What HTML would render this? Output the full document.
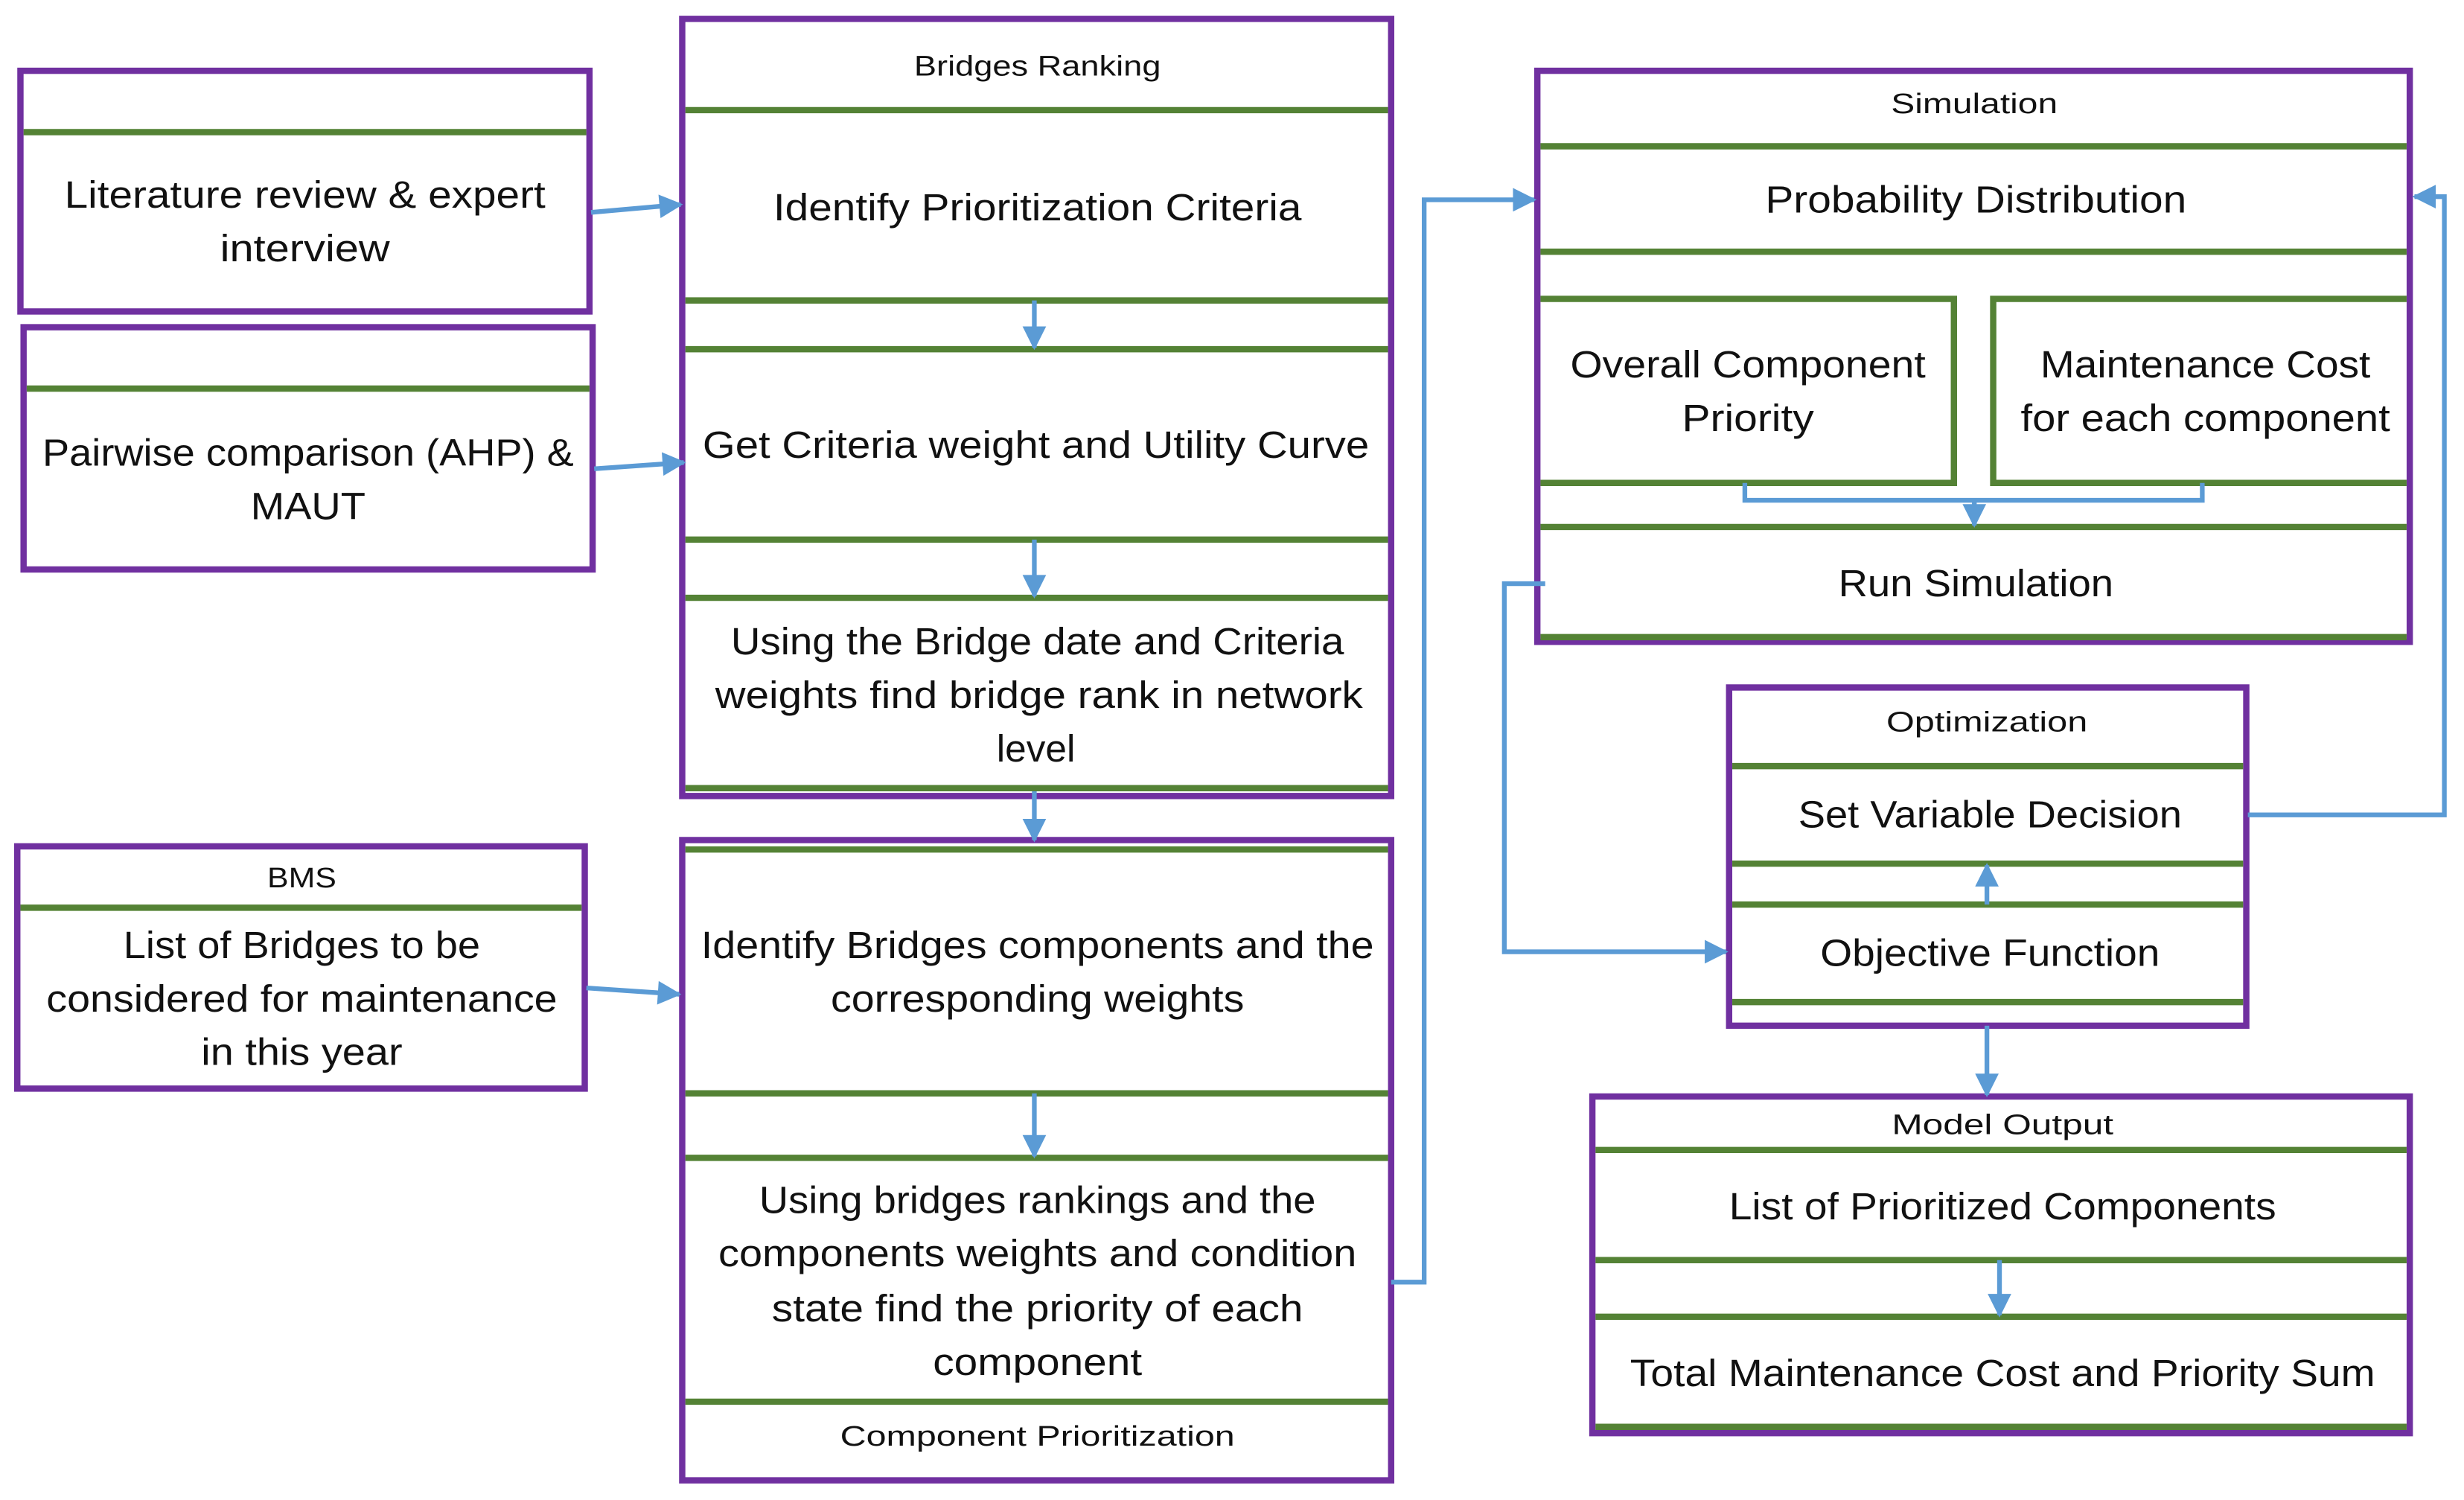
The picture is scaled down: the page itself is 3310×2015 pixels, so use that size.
<!DOCTYPE html>
<html><head><meta charset="utf-8"><style>html,body{margin:0;padding:0;background:#fff}svg{display:block}</style></head><body>
<svg width="3310" height="2015" viewBox="0 0 1567.5 953.5" preserveAspectRatio="none" xmlns="http://www.w3.org/2000/svg">
<defs>
<marker id="ah" viewBox="0 0 10 10" refX="9" refY="5" markerWidth="5.5" markerHeight="5" orient="auto" markerUnits="strokeWidth"><path d="M0,0 L10,5 L0,10 z" fill="#5b9bd5"/></marker>
</defs>
<style>
.p{fill:none;stroke:#7030a0;stroke-width:4}
.g{stroke:#548235;stroke-width:4}
.gb{fill:none;stroke:#548235;stroke-width:4}
.b{fill:none;stroke:#5b9bd5;stroke-width:3}
.ba{fill:none;stroke:#5b9bd5;stroke-width:3;marker-end:url(#ah)}
text{font-family:"Liberation Sans",sans-serif;fill:#111;text-anchor:middle}
.t{font-size:24px}
.s{font-size:18px}
</style>
<rect class="p" x="13" y="45" width="362" height="153"/>
<line class="g" x1="15" y1="84" x2="373" y2="84"/>
<text class="t" x="194" y="132" textLength="306" lengthAdjust="spacingAndGlyphs">Literature review &amp; expert</text>
<text class="t" x="194" y="166" textLength="108" lengthAdjust="spacingAndGlyphs">interview</text>
<rect class="p" x="15" y="208" width="362" height="154"/>
<line class="g" x1="17" y1="247" x2="375" y2="247"/>
<text class="t" x="196" y="296" textLength="338" lengthAdjust="spacingAndGlyphs">Pairwise comparison (AHP) &amp;</text>
<text class="t" x="196" y="330" textLength="73" lengthAdjust="spacingAndGlyphs">MAUT</text>
<rect class="p" x="434" y="12" width="451" height="494"/>
<line class="g" x1="436" y1="70" x2="883" y2="70"/>
<line class="g" x1="436" y1="191" x2="883" y2="191"/>
<line class="g" x1="436" y1="222" x2="883" y2="222"/>
<line class="g" x1="436" y1="343" x2="883" y2="343"/>
<line class="g" x1="436" y1="380" x2="883" y2="380"/>
<line class="g" x1="436" y1="501" x2="883" y2="501"/>
<text class="s" x="660" y="48" textLength="157" lengthAdjust="spacingAndGlyphs">Bridges Ranking</text>
<text class="t" x="660" y="140" textLength="336" lengthAdjust="spacingAndGlyphs">Identify Prioritization Criteria</text>
<text class="t" x="659" y="291" textLength="424" lengthAdjust="spacingAndGlyphs">Get Criteria weight and  Utility Curve</text>
<text class="t" x="660" y="416" textLength="390" lengthAdjust="spacingAndGlyphs">Using the Bridge date and Criteria</text>
<text class="t" x="661" y="450" textLength="412" lengthAdjust="spacingAndGlyphs">weights find bridge rank in network</text>
<text class="t" x="659" y="484" textLength="50" lengthAdjust="spacingAndGlyphs">level</text>
<rect class="p" x="11" y="538" width="361" height="154"/>
<line class="g" x1="13" y1="577" x2="370" y2="577"/>
<text class="s" x="192" y="564" textLength="44" lengthAdjust="spacingAndGlyphs">BMS</text>
<text class="t" x="192" y="609" textLength="227" lengthAdjust="spacingAndGlyphs">List of Bridges to be</text>
<text class="t" x="192" y="643" textLength="325" lengthAdjust="spacingAndGlyphs">considered for maintenance</text>
<text class="t" x="192" y="677" textLength="128" lengthAdjust="spacingAndGlyphs">in this year</text>
<rect class="p" x="434" y="534" width="451" height="407"/>
<line class="g" x1="436" y1="540" x2="883" y2="540"/>
<line class="g" x1="436" y1="695" x2="883" y2="695"/>
<line class="g" x1="436" y1="736" x2="883" y2="736"/>
<line class="g" x1="436" y1="891" x2="883" y2="891"/>
<text class="t" x="660" y="609" textLength="428" lengthAdjust="spacingAndGlyphs">Identify Bridges components and the</text>
<text class="t" x="660" y="643" textLength="263" lengthAdjust="spacingAndGlyphs">corresponding weights</text>
<text class="t" x="660" y="771" textLength="354" lengthAdjust="spacingAndGlyphs">Using bridges rankings and the</text>
<text class="t" x="660" y="805" textLength="406" lengthAdjust="spacingAndGlyphs">components weights and condition</text>
<text class="t" x="660" y="840" textLength="338" lengthAdjust="spacingAndGlyphs">state find the priority of each</text>
<text class="t" x="660" y="874" textLength="133" lengthAdjust="spacingAndGlyphs">component</text>
<text class="s" x="660" y="919" textLength="251" lengthAdjust="spacingAndGlyphs">Component Prioritization</text>
<rect class="p" x="978" y="45" width="555" height="363"/>
<line class="g" x1="980" y1="93" x2="1531" y2="93"/>
<line class="g" x1="980" y1="160" x2="1531" y2="160"/>
<path class="gb" d="M980,190 H1243 V307 H980"/>
<path class="gb" d="M1531,190 H1268 V307 H1531"/>
<line class="g" x1="980" y1="335" x2="1531" y2="335"/>
<line class="g" x1="980" y1="405" x2="1531" y2="405"/>
<text class="s" x="1256" y="72" textLength="106" lengthAdjust="spacingAndGlyphs">Simulation</text>
<text class="t" x="1257" y="135" textLength="268" lengthAdjust="spacingAndGlyphs">Probability Distribution</text>
<text class="t" x="1112" y="240" textLength="226" lengthAdjust="spacingAndGlyphs">Overall Component</text>
<text class="t" x="1112" y="274" textLength="84" lengthAdjust="spacingAndGlyphs">Priority</text>
<text class="t" x="1403" y="240" textLength="210" lengthAdjust="spacingAndGlyphs">Maintenance Cost</text>
<text class="t" x="1403" y="274" textLength="235" lengthAdjust="spacingAndGlyphs">for each component</text>
<text class="t" x="1257" y="379" textLength="175" lengthAdjust="spacingAndGlyphs">Run Simulation</text>
<rect class="p" x="1100" y="437" width="329" height="215"/>
<line class="g" x1="1102" y1="487" x2="1427" y2="487"/>
<line class="g" x1="1102" y1="549" x2="1427" y2="549"/>
<line class="g" x1="1102" y1="575" x2="1427" y2="575"/>
<line class="g" x1="1102" y1="637" x2="1427" y2="637"/>
<text class="s" x="1264" y="465" textLength="128" lengthAdjust="spacingAndGlyphs">Optimization</text>
<text class="t" x="1266" y="526" textLength="244" lengthAdjust="spacingAndGlyphs">Set Variable Decision</text>
<text class="t" x="1266" y="614" textLength="216" lengthAdjust="spacingAndGlyphs">Objective Function</text>
<rect class="p" x="1013" y="697" width="520" height="214"/>
<line class="g" x1="1015" y1="731" x2="1531" y2="731"/>
<line class="g" x1="1015" y1="801" x2="1531" y2="801"/>
<line class="g" x1="1015" y1="837" x2="1531" y2="837"/>
<line class="g" x1="1015" y1="907" x2="1531" y2="907"/>
<text class="s" x="1274" y="721" textLength="141" lengthAdjust="spacingAndGlyphs">Model Output</text>
<text class="t" x="1274" y="775" textLength="348" lengthAdjust="spacingAndGlyphs">List of Prioritized Components</text>
<text class="t" x="1274" y="881" textLength="474" lengthAdjust="spacingAndGlyphs">Total Maintenance Cost and Priority Sum</text>
<line class="ba" x1="376" y1="135" x2="433" y2="130"/>
<line class="ba" x1="378" y1="298" x2="435" y2="294"/>
<line class="ba" x1="373" y1="628" x2="432" y2="632"/>
<line class="ba" x1="658" y1="191" x2="658" y2="221"/>
<line class="ba" x1="658" y1="343" x2="658" y2="379"/>
<line class="ba" x1="658" y1="503" x2="658" y2="534"/>
<line class="ba" x1="658" y1="695" x2="658" y2="735"/>
<path class="ba" d="M885,815 H906 V127 H976"/>
<path class="ba" d="M983,371 H957 V605 H1098"/>
<path class="ba" d="M1430,518 H1555 V125 H1536"/>
<path class="b" d="M1110,307 V318 H1401 V307"/>
<line class="ba" x1="1256" y1="318" x2="1256" y2="334"/>
<line class="ba" x1="1264" y1="575" x2="1264" y2="550"/>
<line class="ba" x1="1264" y1="652" x2="1264" y2="696"/>
<line class="ba" x1="1272" y1="801" x2="1272" y2="836"/>
</svg>
</body></html>
